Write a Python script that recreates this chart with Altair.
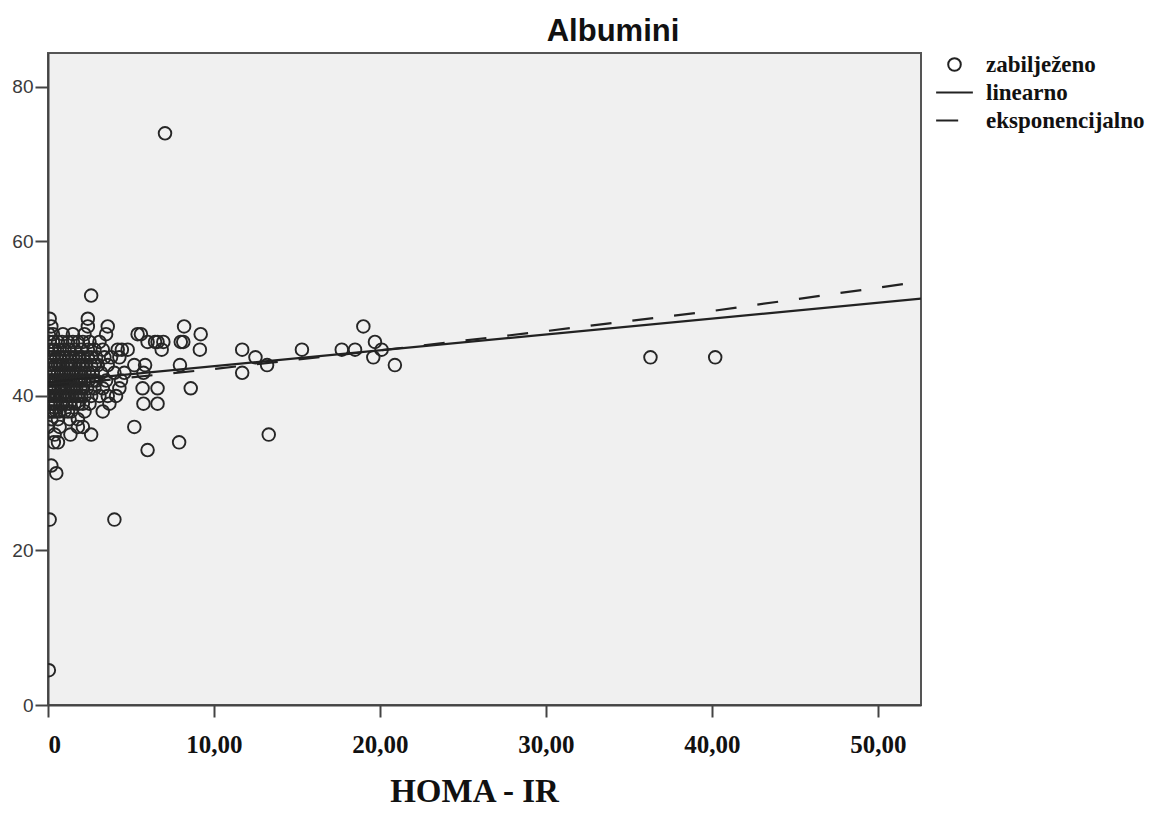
import altair as alt
import pandas as pd

title_text = "Albumini"
x_title = "HOMA - IR"
legend_labels = ["zabilježeno", "linearno", "eksponencijalno"]

# observed points: albumin level (y) and HOMA-IR values (x) read at that level
albumin_levels = [74, 53, 50, 49, 48, 47, 46, 45, 44, 43, 42, 41, 40, 39, 38, 37,
                  36, 35, 34, 33, 31, 30, 24, 4.5]
homa_at_level = [
    [7.05],
    [2.6],
    [0.1, 2.4],
    [0.2, 2.4, 3.6, 8.2, 19.0],
    [0.05, 0.3, 0.9, 1.5, 2.2, 3.5, 5.4, 5.6, 9.2],
    [0.1, 0.3, 0.6, 0.85, 1.2, 1.5, 1.8, 2.1, 2.5, 3.1, 6.0, 6.45, 6.6, 6.95, 8.0, 8.15, 19.7],
    [0.0, 0.2, 0.4, 0.7, 1.0, 1.3, 1.6, 2.0, 2.4, 2.8, 3.3, 4.2, 4.45, 4.8, 6.85, 9.15,
     11.7, 15.3, 17.7, 18.5, 20.1],
    [0.1, 0.3, 0.5, 0.7, 0.9, 1.1, 1.3, 1.5, 1.7, 1.9, 2.1, 2.4, 2.6, 2.9, 3.4, 3.8, 4.3,
     12.5, 19.6, 36.3, 40.2],
    [0.0, 0.2, 0.45, 0.6, 0.75, 0.9, 1.1, 1.25, 1.4, 1.65, 1.9, 2.1, 2.3, 2.6, 2.8, 3.0,
     3.6, 5.2, 5.85, 7.95, 13.2, 20.9],
    [0.05, 0.2, 0.35, 0.6, 0.8, 0.95, 1.1, 1.25, 1.4, 1.55, 1.7, 1.85, 2.0, 2.2, 2.45,
     2.7, 3.2, 4.0, 4.6, 5.75, 11.7],
    [0.0, 0.15, 0.25, 0.4, 0.5, 0.65, 0.8, 0.95, 1.05, 1.2, 1.35, 1.5, 1.7, 1.85, 2.0,
     2.2, 2.45, 2.7, 2.9, 3.5, 4.4],
    [0.1, 0.25, 0.4, 0.65, 0.8, 0.9, 1.05, 1.2, 1.35, 1.5, 1.7, 1.95, 2.1, 2.35, 2.8,
     3.3, 4.3, 5.7, 6.6, 8.6],
    [0.0, 0.15, 0.3, 0.45, 0.55, 0.7, 0.85, 1.0, 1.15, 1.3, 1.45, 1.65, 1.8, 2.0, 2.2,
     2.6, 3.1, 3.6, 4.1],
    [0.15, 0.3, 0.45, 0.75, 0.9, 1.1, 1.3, 1.6, 1.85, 2.1, 2.5, 3.7, 5.75, 6.6],
    [0.05, 0.2, 0.35, 0.5, 0.7, 1.0, 1.2, 1.4, 2.2, 3.3],
    [0.2, 0.6, 1.3, 1.8],
    [0.0, 0.7, 1.8, 2.1, 5.2],
    [0.4, 1.35, 2.6, 13.3],
    [0.35, 0.6, 7.9],
    [6.0],
    [0.2],
    [0.5],
    [0.1, 4.0],
    [0.05],
]

# fitted lines
lin_x = [0, 52.6]
lin_y = [41.8, 52.6]
exp_x = [0, 10, 20, 30, 40, 52.6]
exp_y = [41.3, 43.5, 45.9, 48.4, 51.0, 54.8]

x_ticks = [0, 10, 20, 30, 40, 50]
y_ticks = [0, 20, 40, 60, 80]

rows = [
    {"homa": h, "albumin": a, "kind": legend_labels[0]}
    for a, hs in zip(albumin_levels, homa_at_level)
    for h in hs
]
pts = pd.DataFrame(rows)
lin = pd.DataFrame({"homa": lin_x, "albumin": lin_y})
expo = pd.DataFrame({"homa": exp_x, "albumin": exp_y})
ttl = pd.DataFrame({"t": [title_text]})

xscale = alt.Scale(domain=[0, 52.6], nice=False, zero=False)
yscale = alt.Scale(domain=[0, 84.4], nice=False)

circle_path = "M0,-0.6A0.6,0.6 0 1,1 0,0.6A0.6,0.6 0 1,1 0,-0.6Z"
solid_path = "M-1.75,0H1.75"
dash_path = "M-1.75,0H0.35"

x_axis = alt.Axis(
    values=x_ticks,
    title=x_title,
    labelExpr="datum.value == 0 ? '0' : replace(format(datum.value, '.2f'), '.', ',')",
    labelFont="Liberation Serif", labelFontSize=25, labelFontWeight="bold",
    labelColor="#111", tickSize=12, labelPadding=15,
    titleFont="Liberation Serif", titleFontSize=33, titleFontWeight="bold",
    titleColor="#111", titleX=426, titleY=96, titleBaseline="alphabetic",
    titleAlign="center", grid=False,
)
y_axis = alt.Axis(
    values=y_ticks, title=None, format="d",
    labelFont="Liberation Sans", labelFontSize=19, labelColor="#3a3a3a",
    tickSize=13, labelPadding=2, grid=False,
)

x_enc = alt.X("homa:Q", scale=xscale, axis=x_axis)
y_enc = alt.Y("albumin:Q", scale=yscale, axis=y_axis)

points = alt.Chart(pts).mark_point(
    filled=False, clip=True, size=441, strokeWidth=1.9, color="#262626", opacity=1
).encode(
    x=x_enc,
    y=y_enc,
    shape=alt.Shape(
        "kind:N",
        scale=alt.Scale(domain=legend_labels, range=[circle_path, solid_path, dash_path]),
        legend=alt.Legend(
            title=None, orient="none", legendX=895, legendY=0, padding=0,
            symbolSize=441, symbolStrokeWidth=2, symbolStrokeColor="#222",
            symbolFillColor="transparent", labelFont="Liberation Serif",
            labelFontSize=23, labelFontWeight="bold", labelColor="#111",
            labelOffset=20, rowPadding=4, labelLimit=300,
        ),
    ),
)

lin_line = alt.Chart(lin).mark_line(clip=True, color="#222", strokeWidth=2.2).encode(
    x=x_enc, y=y_enc
)
exp_line = alt.Chart(expo).mark_line(
    clip=True, color="#222", strokeWidth=2.2, strokeDash=[21, 21]
).encode(x=x_enc, y=y_enc)

title_mark = alt.Chart(ttl).mark_text(
    font="Liberation Sans", fontSize=31, fontWeight="bold", color="#111",
    align="center", baseline="alphabetic",
).encode(text="t:N", x=alt.value(565), y=alt.value(-12))

chart = (
    alt.layer(points, lin_line, exp_line, title_mark)
    .properties(
        width=873,
        height=652,
        autosize=alt.AutoSizeParams(type="none"),
        padding={"left": 40, "top": 45, "right": 236, "bottom": 105},
        background="white",
    )
    .configure_view(fill="#f0f0f0", stroke="#555", strokeWidth=2)
    .configure_axis(domainColor="#444", domainWidth=2, tickColor="#444", tickWidth=2)
)

chart.save("out.html", embed_options={"renderer": "svg", "actions": False})
